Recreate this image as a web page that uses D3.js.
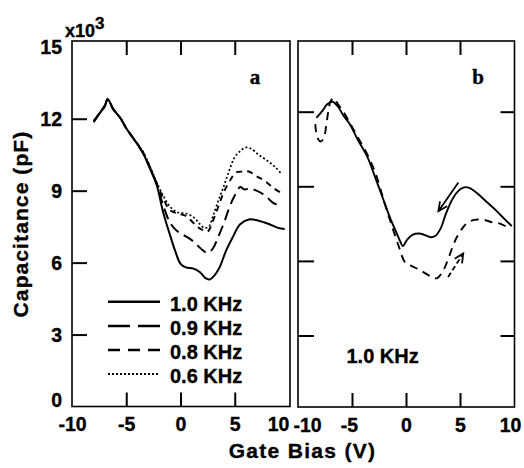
<!DOCTYPE html>
<html>
<head>
<meta charset="utf-8">
<script src="https://cdn.jsdelivr.net/npm/d3@7"></script>
<style>
  html, body { margin: 0; padding: 0; background: #fff; }
  svg { display: block; }
  text { font-family: "Liberation Sans", Arial, sans-serif; font-weight: bold; fill: #000; stroke: #000; stroke-width: 0.35px; }
</style>
</head>
<body>
<svg id="chart" width="524" height="468"></svg>
<script>
// ---------- data (Gate Bias in V, Capacitance in x10^3 pF) ----------
const xTicks = [-10, -5, 0, 5, 10];
const yTicks = [0, 3, 6, 9, 12, 15];
const yTicksB = [3, 6, 9, 12];

// Panel a
const volt10 = [-8.0,-7.5,-7.0,-6.7,-6.2,-5.5,-5.0,-4.3,-3.5,-2.8,-2.2,-1.6,-1.0,-0.5,0.0,0.5,1.2,1.8,2.3,2.7,3.1,3.6,4.2,4.8,5.5,6.3,7.2,8.2,9.0,9.6];
const cap10  = [11.9,12.2,12.5,12.8,12.4,12.0,11.6,11.15,10.6,9.9,9.25,8.1,7.2,6.5,5.95,5.8,5.75,5.6,5.35,5.3,5.45,5.8,6.5,7.05,7.6,7.8,7.75,7.6,7.45,7.4];

const volt09 = [-8.0,-7.5,-7.0,-6.7,-6.2,-5.5,-5.0,-4.3,-3.5,-2.8,-2.2,-1.6,-1.0,-0.4,0.3,1.0,1.6,2.1,2.5,3.0,3.5,4.0,4.5,5.0,5.5,5.9,6.4,7.0,7.8,8.5,9.3];
const cap09  = [11.85,12.2,12.5,12.85,12.4,12.0,11.6,11.15,10.6,9.95,9.3,8.4,7.7,7.35,7.15,6.95,6.7,6.5,6.4,6.6,7.1,7.65,8.3,8.8,9.15,9.05,9.1,9.0,8.8,8.5,8.35];

const volt08 = [-8.0,-7.5,-7.0,-6.7,-6.2,-5.5,-5.0,-4.3,-3.5,-2.8,-2.2,-1.6,-1.0,-0.3,0.5,1.2,1.7,2.1,2.5,3.0,3.5,4.0,4.6,5.1,5.7,6.3,7.0,7.8,8.6,9.3];
const cap08  = [11.9,12.2,12.55,12.8,12.4,12.0,11.6,11.15,10.65,9.95,9.3,8.7,8.2,8.05,7.95,7.65,7.45,7.35,7.3,7.75,8.35,8.95,9.45,9.75,9.8,9.8,9.6,9.4,9.1,8.9];

const volt06 = [-8.0,-7.5,-7.0,-6.7,-6.2,-5.5,-5.0,-4.3,-3.5,-2.8,-2.2,-1.6,-1.0,-0.3,0.5,1.2,1.8,2.2,2.6,3.0,3.5,4.0,4.5,5.0,5.5,6.0,6.5,7.2,8.0,8.7,9.3];
const cap06  = [11.9,12.2,12.55,12.8,12.4,12.0,11.6,11.15,10.65,10.0,9.35,8.8,8.35,8.1,8.05,7.9,7.6,7.45,7.5,7.95,8.6,9.2,9.85,10.4,10.65,10.8,10.75,10.5,10.25,10.0,9.7];

// Panel b (1.0 KHz, reverse sweep = solid, forward sweep = dashed)
const voltBs = [-8.3,-7.8,-7.3,-6.8,-6.3,-5.8,-5.2,-4.5,-3.6,-2.8,-2.0,-1.4,-0.9,-0.5,-0.3,0.1,0.6,1.2,1.7,2.3,2.7,3.2,3.7,4.2,4.7,5.3,5.8,6.5,7.4,8.4,9.2,9.8];
const capBs  = [11.75,12.0,12.3,12.4,12.2,11.85,11.5,10.9,10.2,9.3,8.35,7.65,7.15,6.75,6.6,6.85,7.05,7.1,7.05,6.95,7.0,7.3,7.9,8.4,8.75,8.95,8.95,8.75,8.4,8.0,7.65,7.4];

const voltBd = [-8.4,-8.2,-7.9,-7.6,-7.4,-7.2,-7.0,-6.7,-6.3,-5.8,-5.2,-4.5,-3.6,-2.8,-2.0,-1.3,-0.6,-0.1,0.5,1.2,1.8,2.4,2.85,3.3,3.8,4.3,4.7,5.2,5.6,6.3,7.2,8.0,8.7,9.6];
const capBd  = [11.5,10.95,10.8,10.95,11.4,12.0,12.4,12.55,12.3,12.0,11.55,11.0,10.3,9.5,8.35,7.4,6.5,5.95,5.8,5.65,5.5,5.35,5.3,5.5,5.95,6.55,6.95,7.3,7.5,7.65,7.65,7.55,7.5,7.3];

// arrows in panel b: [startV, startC, endV, endC]
const arrowSolid  = [4.85, 9.15, 3.0, 8.0];
const arrowDashed = [3.9, 5.35, 5.3, 6.3];

const legendLabels = ["1.0 KHz", "0.9 KHz", "0.8 KHz", "0.6 KHz"];

// ---------- drawing ----------
const svg = d3.select("#chart");
const FONT = 19.5;

const xA = d3.scaleLinear().domain([-10, 10]).range([72, 289]);
const yA = d3.scaleLinear().domain([0, 15]).range([406.5, 46.8]);
const xB = d3.scaleLinear().domain([-10, 10]).range([298, 514]);
const yB = d3.scaleLinear().domain([3, 12]).range([335.5, 111.7]);

const frameTop = 41, frameBotA = 406.5, frameBotB = 407;

// frames
svg.append("rect").attr("x", 72).attr("y", frameTop).attr("width", 290 - 72).attr("height", frameBotA - frameTop)
  .attr("fill", "none").attr("stroke", "#000").attr("stroke-width", 1.6);
svg.append("rect").attr("x", 298).attr("y", frameTop).attr("width", 514.5 - 298).attr("height", frameBotB - frameTop)
  .attr("fill", "none").attr("stroke", "#000").attr("stroke-width", 1.6);

function styleAxis(g) {
  g.select(".domain").remove();
  g.selectAll(".tick line").attr("stroke", "#000").attr("stroke-width", 2);
  g.selectAll("text").attr("font-size", FONT).attr("font-family", "Liberation Sans, Arial, sans-serif")
    .attr("font-weight", "bold").attr("fill", "#000");
}
const fmt = d => String(d);

// Panel a axes
const gxA = svg.append("g").attr("transform", `translate(0,${frameBotA})`)
  .call(d3.axisBottom(xA).tickValues(xTicks).tickSize(-14).tickPadding(11).tickFormat(fmt));
styleAxis(gxA);
gxA.selectAll(".tick text").attr("dx", d => d === 10 ? -11 : 0);
gxA.selectAll(".tick line").filter(d => d === -10 || d === 10).remove();

const gxAt = svg.append("g").attr("transform", `translate(0,${frameTop})`)
  .call(d3.axisTop(xA).tickValues([-5, 0, 5]).tickSize(-14).tickFormat(""));
styleAxis(gxAt);

const gyA = svg.append("g").attr("transform", `translate(72,0)`)
  .call(d3.axisLeft(yA).tickValues(yTicks).tickSize(-15).tickPadding(10).tickFormat(fmt));
styleAxis(gyA);
gyA.selectAll(".tick line").filter(d => d === 0 || d === 15).remove();
gyA.selectAll(".tick text").attr("dy", d => d === 0 ? "0.0em" : "0.36em");

// Panel b axes
const gxB = svg.append("g").attr("transform", `translate(0,${frameBotB})`)
  .call(d3.axisBottom(xB).tickValues(xTicks).tickSize(-14).tickPadding(11).tickFormat(fmt));
styleAxis(gxB);
gxB.selectAll(".tick text").attr("dx", d => d === -10 ? 9 : (d === 10 ? -4 : (d === -5 ? -3 : 0)));
gxB.selectAll(".tick line").filter(d => d === -10 || d === 10).remove();

const gxBt = svg.append("g").attr("transform", `translate(0,${frameTop})`)
  .call(d3.axisTop(xB).tickValues([-5, 0, 5]).tickSize(-14).tickFormat(""));
styleAxis(gxBt);

const gyBl = svg.append("g").attr("transform", `translate(298,0)`)
  .call(d3.axisLeft(yB).tickValues(yTicksB).tickSize(-16).tickFormat(""));
styleAxis(gyBl);
const gyBr = svg.append("g").attr("transform", `translate(514.5,0)`)
  .call(d3.axisRight(yB).tickValues(yTicksB).tickSize(-14).tickFormat(""));
styleAxis(gyBr);

// curves
function drawCurve(xs, ys, vx, vy, dash, sw) {
  const pts = xs.map((v, i) => [v, ys[i]]);
  const line = d3.line().x(d => vx(d[0])).y(d => vy(d[1])).curve(d3.curveCatmullRom.alpha(0.5));
  svg.append("path").datum(pts).attr("d", line)
    .attr("fill", "none").attr("stroke", "#000").attr("stroke-width", sw || 1.9)
    .attr("stroke-dasharray", dash || null).attr("stroke-linejoin", "round");
}

drawCurve(volt06, cap06, xA, yA, "2,2.2", 1.7);
drawCurve(volt08, cap08, xA, yA, "6,5", 1.9);
drawCurve(volt09, cap09, xA, yA, "11,6", 2.0);
drawCurve(volt10, cap10, xA, yA, null, 2.0);

drawCurve(voltBd, capBd, xB, yB, "8,6", 1.9);
drawCurve(voltBs, capBs, xB, yB, null, 1.9);

function drawArrow(a, dash) {
  const x1 = xB(a[0]), y1 = yB(a[1]), x2 = xB(a[2]), y2 = yB(a[3]);
  svg.append("line").attr("x1", x1).attr("y1", y1).attr("x2", x2).attr("y2", y2)
    .attr("stroke", "#000").attr("stroke-width", 1.8).attr("stroke-dasharray", dash || null);
  const ang = Math.atan2(y2 - y1, x2 - x1);
  const L = 10, spread = 0.45;
  const p1 = [x2 - L * Math.cos(ang - spread), y2 - L * Math.sin(ang - spread)];
  const p2 = [x2 - L * Math.cos(ang + spread), y2 - L * Math.sin(ang + spread)];
  svg.append("path").attr("d", `M${p1[0]},${p1[1]}L${x2},${y2}L${p2[0]},${p2[1]}`)
    .attr("fill", "none").attr("stroke", "#000").attr("stroke-width", 1.8);
}
drawArrow(arrowSolid, null);
drawArrow(arrowDashed, "5,3");

// legend
const legendDash = [null, "22,8", "12,8", "2,2"];
const legendLineY = [301.7, 326, 350, 374];
const legendTextY = [310.5, 334.5, 358.5, 382.5];
legendLabels.forEach((lab, i) => {
  svg.append("line").attr("x1", 108).attr("x2", 160).attr("y1", legendLineY[i]).attr("y2", legendLineY[i])
    .attr("stroke", "#000").attr("stroke-width", i === 3 ? 2 : 2.6).attr("stroke-dasharray", legendDash[i]);
  svg.append("text").attr("x", 170).attr("y", legendTextY[i]).attr("font-size", 20).text(lab);
});

// panel b annotation
svg.append("text").attr("x", 346.5).attr("y", 363).attr("font-size", 20).text("1.0 KHz");

// panel letters
svg.append("text").attr("x", 255).attr("y", 83.5).attr("text-anchor", "middle")
  .attr("font-size", 21).style("font-family", "'Liberation Serif', serif").text("a");
svg.append("text").attr("x", 478).attr("y", 83.5).attr("text-anchor", "middle")
  .attr("font-size", 21).style("font-family", "'Liberation Serif', serif").text("b");

// multiplier
const mult = svg.append("text").attr("x", 65).attr("y", 37).attr("font-size", 18);
mult.append("tspan").text("x10");
mult.append("tspan").attr("dy", -8).attr("font-size", 17).text("3");

// axis titles
svg.append("text").attr("x", 302.5).attr("y", 458).attr("text-anchor", "middle")
  .attr("font-size", 21).attr("letter-spacing", 1.3).text("Gate Bias (V)");
svg.append("text").attr("transform", "translate(28,224) rotate(-90)").attr("text-anchor", "middle")
  .attr("font-size", 21).attr("letter-spacing", 1.1).text("Capacitance (pF)");
</script>
</body>
</html>
